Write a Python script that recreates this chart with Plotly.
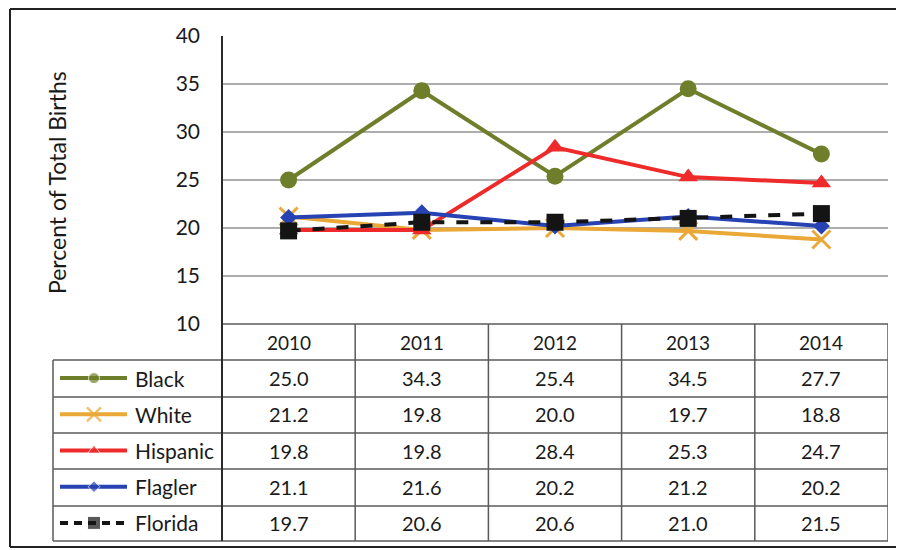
import plotly.graph_objects as go

years = ["2010", "2011", "2012", "2013", "2014"]
black = [25.0, 34.3, 25.4, 34.5, 27.7]
white = [21.2, 19.8, 20.0, 19.7, 18.8]
hispanic = [19.8, 19.8, 28.4, 25.3, 24.7]
flagler = [21.1, 21.6, 20.2, 21.2, 20.2]
florida = [19.7, 20.6, 20.6, 21.0, 21.5]

# the page body adds an 8px margin, so the figure is 8px smaller each way
OFF = 8
W, H = 904 - OFF, 550 - OFF
FONT = "Lato, sans-serif"


def px(x):
    return (x - OFF) / W


def py(y):
    return 1 - (y - OFF) / H


series = [
    # name, values, colour, symbol, size, legend size, dash
    ("Black", black, "#6f7e2b", "circle", 17, 11, "solid"),
    ("White", white, "#e9a837", "x-thin", 18, 14, "solid"),
    ("Hispanic", hispanic, "#ee2a2a", "triangle-up", 17, 11, "solid"),
    ("Flagler", flagler, "#2742b2", "diamond", 13, 9, "solid"),
    ("Florida", florida, "#141414", "square", 17, 13, "dash"),
]

fig = go.Figure()

# main chart
for name, vals, color, sym, size, lsize, dash in series:
    marker = dict(symbol=sym, size=size, color=color)
    if sym == "x-thin":
        marker["line"] = dict(color=color, width=3)
    fig.add_trace(go.Scatter(
        x=years, y=vals, name=name, mode="lines+markers",
        line=dict(color=color, width=4, dash=dash),
        marker=marker, showlegend=False,
    ))

# legend keys in the table's first column (own small axes)
row_y = [4.5, 3.5, 2.5, 1.5, 0.5]
for (name, vals, color, sym, size, lsize, dash), ry in zip(series, row_y):
    marker = dict(symbol=sym, size=[0, lsize, 0], color=color)
    if sym == "x-thin":
        marker["line"] = dict(color=color, width=2.5)
    fig.add_trace(go.Scatter(
        x=[60, 94, 127], y=[ry, ry, ry], mode="lines+markers",
        line=dict(color=color, width=4, dash="8px,6px" if dash == "dash" else "solid"),
        marker=marker, xaxis="x2", yaxis="y2", showlegend=False, hoverinfo="skip",
    ))

annotations = []
# year headers
for i, yr in enumerate(years):
    annotations.append(dict(x=i, y=py(342), xref="x", yref="paper", text=yr,
                            showarrow=False, font=dict(size=19)))
# table cells and row labels
for (name, vals, *_), ry in zip(series, row_y):
    annotations.append(dict(x=133, y=ry, xref="x2", yref="y2", text=name,
                            xanchor="left", showarrow=False, font=dict(size=21)))
    for i, v in enumerate(vals):
        annotations.append(dict(x=i, y=ry, xref="x", yref="y2", text=f"{v:.1f}",
                                showarrow=False, font=dict(size=20)))
# axis title
annotations.append(dict(x=px(57), y=py(183), xref="paper", yref="paper",
                        xanchor="center", yanchor="middle",
                        text="Percent of Total Births", textangle=-90,
                        showarrow=False, font=dict(size=23)))

tline = dict(color="#5a5a5a", width=1.5)
shapes = []
# horizontal table rules
shapes.append(dict(type="line", xref="paper", yref="paper",
                   x0=px(222), x1=px(888), y0=py(324), y1=py(324), line=tline))
for yy in [360, 397, 433, 469, 506, 541]:
    shapes.append(dict(type="line", xref="paper", yref="paper",
                       x0=px(53), x1=px(888), y0=py(yy), y1=py(yy), line=tline))
# vertical table rules
shapes.append(dict(type="line", xref="paper", yref="paper",
                   x0=px(53), x1=px(53), y0=py(360), y1=py(541), line=tline))
shapes.append(dict(type="line", xref="paper", yref="paper",
                   x0=px(222), x1=px(222), y0=py(36), y1=py(541),
                   line=dict(color="#2a2a2a", width=2)))
for b in [0.5, 1.5, 2.5, 3.5, 4.5]:
    shapes.append(dict(type="line", xref="x", yref="paper",
                       x0=b, x1=b, y0=py(324), y1=py(541), line=tline))
# outer frame (top, left, bottom)
frame = dict(color="#222222", width=2)
top = 0.998
shapes.append(dict(type="line", xref="paper", yref="paper",
                   x0=px(10), x1=1, y0=top, y1=top, line=frame))
shapes.append(dict(type="line", xref="paper", yref="paper",
                   x0=px(10), x1=px(10), y0=top, y1=py(547), line=frame))
shapes.append(dict(type="line", xref="paper", yref="paper",
                   x0=px(10), x1=1, y0=py(547), y1=py(547), line=frame))

fig.update_layout(
    width=W, height=H,
    margin=dict(l=0, r=0, t=0, b=0, pad=0),
    paper_bgcolor="white", plot_bgcolor="white",
    font=dict(family=FONT, color="#1a1a1a", size=18),
    xaxis=dict(type="category", range=[-0.5, 4.5], domain=[px(222), px(888)],
               showticklabels=False, showgrid=False, zeroline=False,
               automargin=False, fixedrange=True),
    yaxis=dict(range=[10, 40], dtick=5, domain=[py(324), py(36)],
               showgrid=True, gridcolor="#adadad", gridwidth=1.5, zeroline=False,
               ticks="", ticklabelstandoff=21, tickfont=dict(size=21),
               automargin=False, fixedrange=True),
    xaxis2=dict(range=[53, 222], domain=[px(53), px(222)], anchor="y2",
                visible=False, automargin=False, fixedrange=True),
    yaxis2=dict(range=[0, 5], domain=[py(541), py(360)], anchor="x2",
                visible=False, automargin=False, fixedrange=True),
    annotations=annotations,
    shapes=shapes,
)

fig.write_html("out.html")
